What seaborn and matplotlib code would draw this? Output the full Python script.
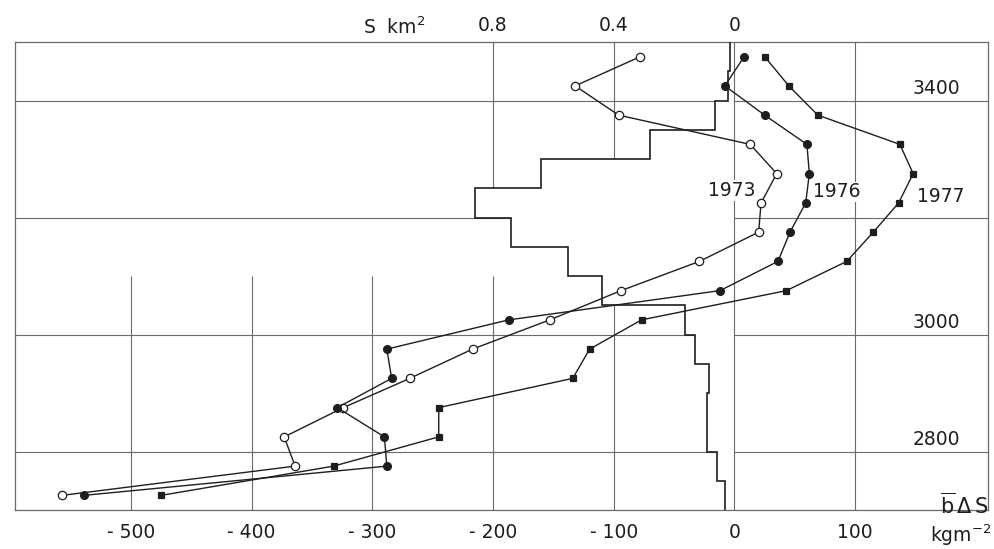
import numpy as np
import pandas as pd
import matplotlib
matplotlib.use("Agg")
import matplotlib.pyplot as plt
import seaborn as sns

# ---------------- data ----------------
elevation = [3475, 3425, 3375, 3325, 3275, 3225, 3175, 3125,
             3075, 3025, 2975, 2925, 2875, 2825, 2775, 2725]
b_1973 = [-78, -132, -96, 13, 35, 22, 20, -29,
          -94, -153, -217, -269, -324, -373, -364, -557]
b_1976 = [8, -8, 25, 60, 62, 59, 46, 36,
          -12, -187, -288, -284, -329, -290, -288, -539]
b_1977 = [25, 45, 69, 137, 148, 136, 115, 93,
          43, -77, -120, -134, -245, -245, -332, -475]

band_edges = [2700, 2750, 2800, 2850, 2900, 2950, 3000, 3050, 3100,
              3150, 3200, 3250, 3300, 3350, 3400, 3450, 3500]
area_km2 = [0.03, 0.058, 0.09, 0.09, 0.085, 0.13, 0.165, 0.44,
            0.55, 0.74, 0.86, 0.64, 0.28, 0.063, 0.022, 0.016]

bottom_ticks = [-500, -400, -300, -200, -100, 0, 100]
top_ticks = [0.8, 0.4, 0.0]
top_tick_labels = ["0.8", "0.4", "0"]
elev_labels = [3400, 3000, 2800]
years = ["1973", "1976", "1977"]

KM2_TO_B = -250.0  # 0.4 km2 on the top scale sits over -100 on the bottom scale

# ---------------- style ----------------
sns.set_style("white")
plt.rcParams["font.family"] = ["DejaVu Sans"]
plt.rcParams["mathtext.fontset"] = "dejavusans"
INK = "#1e1e1e"
GRID = "#6a6a6a"
FS = 13.5

fig = plt.figure(figsize=(9.95, 5.49), dpi=100)
ax = fig.add_axes([15 / 995, 1 - 510 / 549, (988 - 15) / 995, (510 - 42) / 549])
ax.set_xlim(-596, 210)
ax.set_ylim(2700, 3500)

# grid (partial segments as in the original drawing)
gx = [-500, -400, -300, -200, -200, -100, -100, 0, 100]
glo = [2700, 2700, 2700, 2700, 3250, 2700, 3300, 2700, 2700]
ghi = [3100, 3100, 3100, 3100, 3500, 3050, 3500, 3500, 3500]
ax.vlines(gx[:-2], glo[:-2], ghi[:-2], color=GRID, lw=0.8, zorder=1)
ax.vlines(gx[-2:], glo[-2:], ghi[-2:], color=GRID, lw=0.8, zorder=3)
ax.hlines([2800, 3000, 3200, 3400], -596, 210, color=GRID, lw=0.8, zorder=1)

# area histogram drawn leftwards from S = 0
hist_vals = np.array(area_km2) * KM2_TO_B
ax.stairs(hist_vals, band_edges, orientation="horizontal", baseline=0,
          fill=True, color="white", zorder=2)
ax.stairs(hist_vals, band_edges, orientation="horizontal", baseline=None,
          color=INK, lw=1.2, zorder=3)

# mass balance profiles
df = pd.DataFrame({"elev": elevation * 3,
                   "b": b_1973 + b_1976 + b_1977,
                   "year": np.repeat(years, len(elevation))})
styles = {
    "1973": dict(marker="o", markerfacecolor="white", markersize=6),
    "1976": dict(marker="o", markerfacecolor=INK, markersize=5.6),
    "1977": dict(marker="s", markerfacecolor=INK, markersize=4.8),
}
for yr in years:
    sub = df[df["year"] == yr]
    sns.lineplot(data=sub, x="b", y="elev", orient="y", sort=True,
                 estimator=None, ax=ax, color=INK, lw=1.0,
                 markeredgecolor=INK, markeredgewidth=0.9, zorder=4,
                 legend=False, **styles[yr])

# year labels
year_pos = {"1973": (-2, 3246), "1976": (85, 3244), "1977": (171, 3236)}
for yr in years:
    xx, yy = year_pos[yr]
    ax.text(xx, yy, yr, fontsize=FS, color=INK, ha="center", va="center",
            zorder=5, bbox=dict(facecolor="white", edgecolor="none", pad=0.5))

# elevation labels inside on the right
for ev in elev_labels:
    ax.text(187, ev + 4, str(ev), fontsize=FS, color=INK, ha="right",
            va="bottom", zorder=5)

# axes and ticks
ax.set_xticks(bottom_ticks)
ax.set_xticklabels([str(t).replace("-", "- ") if t < 0 else str(t) for t in bottom_ticks])
ax.set_yticks([])
ax.tick_params(axis="x", length=0, pad=9, labelsize=FS, colors=INK)
ax.set_xlabel("")
ax.set_ylabel("")
for sp in ax.spines.values():
    sp.set_color(GRID)
    sp.set_linewidth(0.9)

sec = ax.secondary_xaxis("top", functions=(lambda b: b / KM2_TO_B,
                                           lambda s: s * KM2_TO_B))
sec.set_xticks(top_ticks)
sec.set_xticklabels(top_tick_labels)
sec.tick_params(length=0, pad=5, labelsize=FS, colors=INK)
sec.spines["top"].set_visible(False)

ax.text(-282, 1.032, "S  km$^2$", transform=ax.get_xaxis_transform(),
        fontsize=FS, color=INK, ha="center", va="center", clip_on=False)
ax.text(190, 2708, r"$\overline{\mathrm{b}}\,\Delta\,\mathrm{S}$",
        fontsize=15, color=INK, ha="center", va="center", zorder=5, clip_on=False)
ax.text(213, -0.053, r"kgm$^{-2}$", transform=ax.get_xaxis_transform(),
        fontsize=FS, color=INK, ha="right", va="center", clip_on=False)

fig.savefig("out.png", dpi=100)
